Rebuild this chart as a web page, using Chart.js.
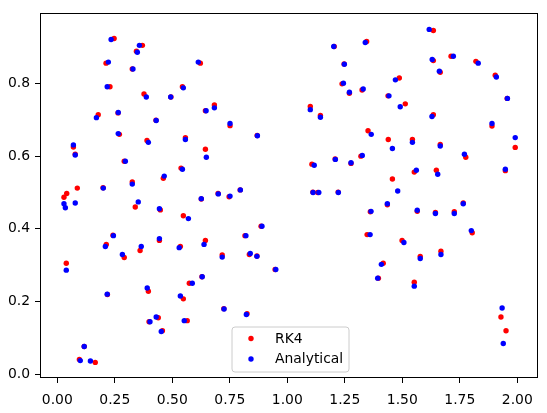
<!DOCTYPE html>
<html>
<head>
<meta charset="utf-8">
<script src="https://cdn.jsdelivr.net/npm/chart.js@4"></script>
<style>
html,body{margin:0;padding:0;background:#fff;}
#wrap{width:547px;height:413px;}
</style>
</head>
<body>
<div id="wrap"><canvas id="c" width="547" height="413"></canvas></div>
<script>
// ---- data ----
const rk4X = [0.247,0.370,0.344,0.212,0.622,0.326,0.229,0.377,0.544,0.494,
0.644,0.178,0.264,0.429,0.270,0.390,0.557,0.070,0.078,0.644,
0.291,0.461,0.538,0.326,0.087,0.199,0.029,0.041,0.339,0.626,
0.448,0.548,0.242,0.213,0.291,0.360,0.444,0.535,0.644,0.039,
0.574,0.629,0.396,0.218,0.548,0.439,0.399,0.565,0.457,0.117,
0.096,0.165,
1.204,1.345,1.247,1.238,1.270,1.325,0.683,0.751,0.869,1.100,
1.144,1.351,1.208,1.277,1.320,1.107,0.699,0.747,0.795,1.111,
1.132,1.221,1.361,0.886,0.816,1.347,0.717,0.835,0.868,0.947,
0.724,0.825,
1.635,1.712,1.635,1.820,1.665,1.487,1.904,1.438,1.513,1.956,
1.635,1.890,1.439,1.544,1.665,1.991,1.776,1.552,1.648,1.948,
1.457,1.435,1.765,1.565,1.644,1.726,1.804,1.499,1.668,1.578,
1.417,1.396,1.552,1.929,1.951];
const rk4Y = [0.924,0.905,0.889,0.856,0.856,0.840,0.791,0.771,0.791,0.763,
0.725,0.714,0.719,0.699,0.660,0.643,0.651,0.625,0.605,0.619,
0.586,0.539,0.567,0.529,0.512,0.513,0.487,0.497,0.460,0.482,
0.452,0.436,0.382,0.357,0.321,0.340,0.368,0.351,0.368,0.305,
0.250,0.268,0.228,0.219,0.207,0.155,0.144,0.147,0.119,0.076,
0.040,0.032,
0.902,0.916,0.854,0.799,0.773,0.782,0.741,0.684,0.657,0.737,
0.712,0.670,0.592,0.580,0.600,0.578,0.497,0.488,0.507,0.501,
0.500,0.501,0.447,0.407,0.381,0.384,0.328,0.329,0.325,0.288,
0.180,0.166,
0.946,0.875,0.863,0.861,0.831,0.815,0.823,0.766,0.744,0.759,
0.714,0.683,0.646,0.646,0.632,0.624,0.597,0.556,0.561,0.560,
0.537,0.466,0.471,0.448,0.445,0.447,0.389,0.368,0.338,0.324,
0.305,0.264,0.253,0.157,0.119];
const anaX = [0.234,0.357,0.348,0.222,0.613,0.329,0.217,0.387,0.548,0.493,
0.647,0.170,0.265,0.430,0.265,0.396,0.557,0.070,0.078,0.648,
0.296,0.465,0.544,0.326,0.200,0.029,0.035,0.078,0.352,0.626,
0.444,0.570,0.244,0.209,0.283,0.365,0.444,0.530,0.638,0.039,
0.587,0.630,0.391,0.217,0.535,0.430,0.403,0.552,0.452,0.117,
0.100,0.144,
1.202,1.339,1.248,1.244,1.270,1.330,0.683,0.751,0.870,1.100,
1.144,1.365,1.209,1.277,1.326,1.117,0.700,0.751,0.796,1.112,
1.137,1.222,1.364,0.890,0.820,1.360,0.717,0.839,0.868,0.950,
0.725,0.822,
1.617,1.722,1.630,1.830,1.661,1.470,1.909,1.442,1.491,1.957,
1.629,1.890,1.457,1.544,1.665,1.991,1.770,1.561,1.654,1.948,
1.480,1.435,1.765,1.565,1.644,1.726,1.800,1.507,1.668,1.578,
1.409,1.393,1.552,1.934,1.939];
const anaY = [0.921,0.905,0.886,0.859,0.859,0.840,0.791,0.763,0.788,0.763,
0.725,0.706,0.720,0.698,0.662,0.638,0.646,0.631,0.603,0.597,
0.586,0.545,0.564,0.523,0.512,0.469,0.458,0.471,0.474,0.483,
0.455,0.428,0.381,0.351,0.329,0.351,0.373,0.348,0.357,0.286,
0.250,0.268,0.237,0.220,0.215,0.157,0.144,0.147,0.117,0.076,
0.037,0.036,
0.902,0.913,0.853,0.801,0.776,0.785,0.733,0.690,0.656,0.728,
0.707,0.660,0.591,0.582,0.602,0.575,0.496,0.490,0.507,0.500,
0.500,0.500,0.448,0.407,0.381,0.384,0.322,0.332,0.324,0.288,
0.179,0.164,
0.949,0.875,0.866,0.856,0.834,0.810,0.818,0.766,0.736,0.759,
0.709,0.690,0.621,0.638,0.628,0.651,0.605,0.561,0.550,0.564,
0.504,0.469,0.469,0.451,0.442,0.442,0.395,0.362,0.329,0.318,
0.302,0.264,0.242,0.182,0.084];
const seriesNames = ['RK4','Analytical'];
const xTicks = [0,0.25,0.5,0.75,1.0,1.25,1.5,1.75,2.0];
const xTickLabels = ['0.00','0.25','0.50','0.75','1.00','1.25','1.50','1.75','2.00'];
const yTicks = [0,0.2,0.4,0.6,0.8];
const yTickLabels = ['0.0','0.2','0.4','0.6','0.8'];

const toPts = (xs, ys) => xs.map((x, i) => ({x: x, y: ys[i]}));
const FONT = 'DejaVu Sans';
const FS = 13.9;

const framePlugin = {
  id: 'frameLegend',
  afterDraw(chart) {
    const ctx = chart.ctx, a = chart.chartArea;
    ctx.save();
    ctx.strokeStyle = '#000';
    ctx.lineWidth = 1;
    ctx.strokeRect(Math.round(a.left) + 0.5, Math.round(a.top) + 0.5,
                   Math.round(a.right - a.left) - 1, Math.round(a.bottom - a.top) - 1);
    // legend box (matplotlib style, lower center)
    const bx = 232, by = 327, bw = 117, bh = 45, r = 3;
    ctx.beginPath();
    ctx.moveTo(bx + r, by);
    ctx.lineTo(bx + bw - r, by);
    ctx.arcTo(bx + bw, by, bx + bw, by + r, r);
    ctx.lineTo(bx + bw, by + bh - r);
    ctx.arcTo(bx + bw, by + bh, bx + bw - r, by + bh, r);
    ctx.lineTo(bx + r, by + bh);
    ctx.arcTo(bx, by + bh, bx, by + bh - r, r);
    ctx.lineTo(bx, by + r);
    ctx.arcTo(bx, by, bx + r, by, r);
    ctx.closePath();
    ctx.fillStyle = 'rgba(255,255,255,0.8)';
    ctx.fill();
    ctx.strokeStyle = '#cccccc';
    ctx.stroke();
    const colors = ['#ff0000', '#0000ff'];
    const rows = [338.5, 359];
    ctx.font = FS + 'px "' + FONT + '"';
    ctx.textBaseline = 'middle';
    ctx.textAlign = 'left';
    for (let i = 0; i < 2; i++) {
      ctx.beginPath();
      ctx.arc(251, rows[i], 2.7, 0, Math.PI * 2);
      ctx.fillStyle = colors[i];
      ctx.fill();
      ctx.fillStyle = '#000';
      ctx.fillText(seriesNames[i], 275, rows[i] + 0.5);
    }
    ctx.restore();
  }
};

new Chart(document.getElementById('c'), {
  type: 'scatter',
  data: {
    datasets: [
      {label: seriesNames[0], data: toPts(rk4X, rk4Y), backgroundColor: '#ff0000',
       borderWidth: 0, pointRadius: 2.7, pointHoverRadius: 2.7, order: 1},
      {label: seriesNames[1], data: toPts(anaX, anaY), backgroundColor: '#0000ff',
       borderWidth: 0, pointRadius: 2.7, pointHoverRadius: 2.7, order: 0}
    ]
  },
  options: {
    responsive: false,
    animation: false,
    devicePixelRatio: 1,
    layout: {padding: {top: 10, right: 9, left: 0, bottom: 0}},
    plugins: {legend: {display: false}, tooltip: {enabled: false}},
    scales: {
      x: {
        type: 'linear',
        min: -0.0752, max: 2.090,
        afterFit(s) { s.height = 35; },
        afterBuildTicks(s) { s.ticks = xTicks.map(v => ({value: v})); },
        grid: {display: true, drawOnChartArea: false, drawTicks: true, tickLength: 5, color: '#000', lineWidth: 1},
        border: {display: false},
        ticks: {
          color: '#000', padding: 9, maxRotation: 0, autoSkip: false,
          font: {family: FONT, size: FS},
          callback: (v) => { const i = xTicks.indexOf(v); return i >= 0 ? xTickLabels[i] : ''; }
        }
      },
      y: {
        type: 'linear',
        min: -0.0109, max: 0.9932,
        afterFit(s) { s.width = 40; },
        afterBuildTicks(s) { s.ticks = yTicks.map(v => ({value: v})); },
        grid: {display: true, drawOnChartArea: false, drawTicks: true, tickLength: 5, color: '#000', lineWidth: 1},
        border: {display: false},
        ticks: {
          color: '#000', padding: 5, autoSkip: false,
          font: {family: FONT, size: FS},
          callback: (v) => { const i = yTicks.indexOf(v); return i >= 0 ? yTickLabels[i] : ''; }
        }
      }
    }
  },
  plugins: [framePlugin]
});
</script>
</body>
</html>
